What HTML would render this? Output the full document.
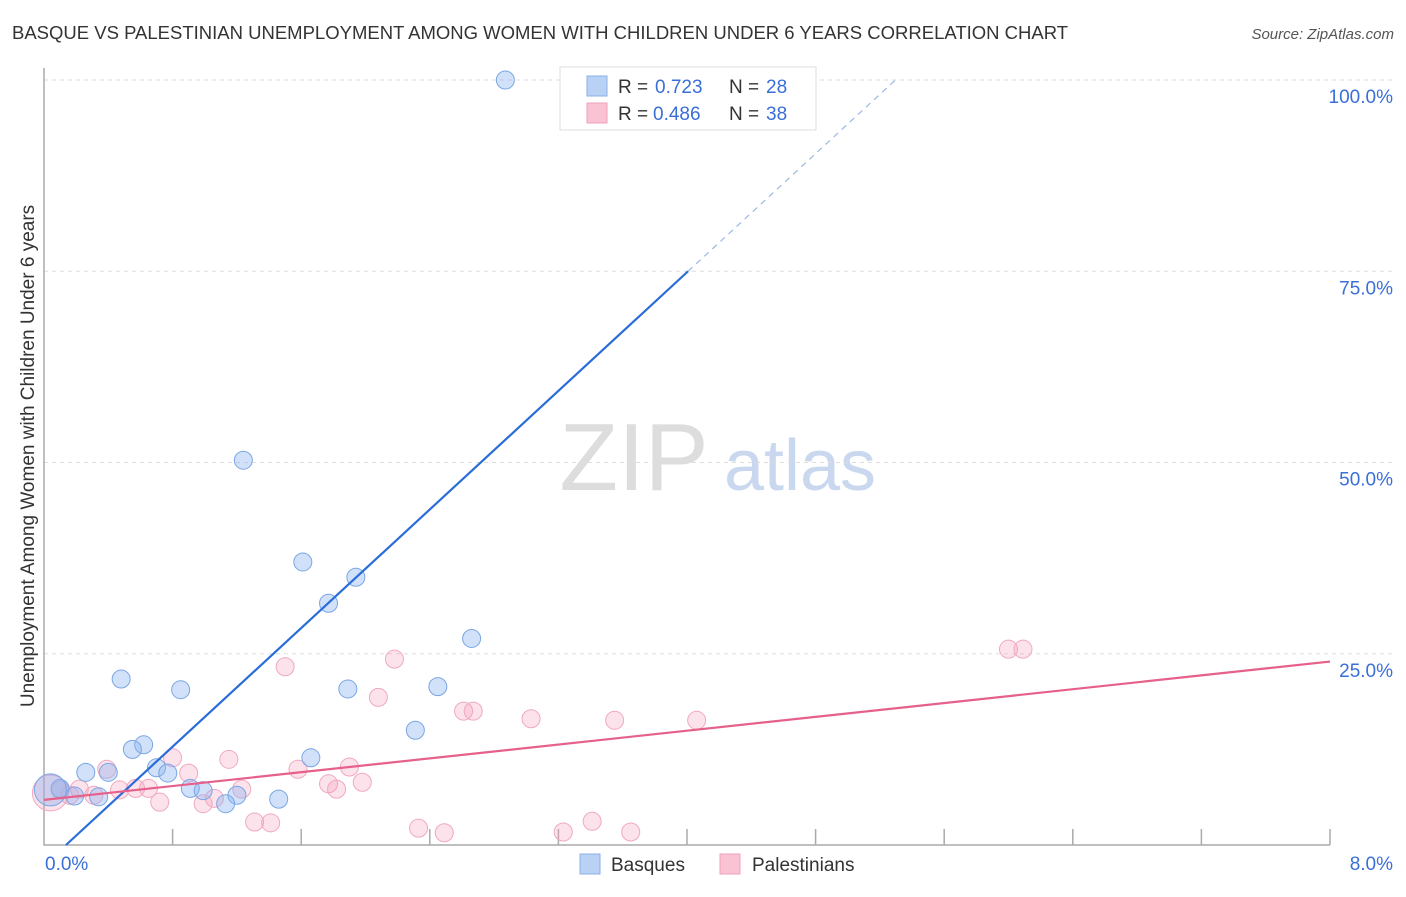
<!DOCTYPE html>
<html><head><meta charset="utf-8"><style>
body{margin:0;background:#fff;font-family:"Liberation Sans",sans-serif;}
svg text{font-family:"Liberation Sans",sans-serif;}
</style></head><body>
<svg id="chart" width="1406" height="892" viewBox="0 0 1406 892" xmlns="http://www.w3.org/2000/svg">
<text x="12" y="39" font-size="18.5" fill="#333">BASQUE VS PALESTINIAN UNEMPLOYMENT AMONG WOMEN WITH CHILDREN UNDER 6 YEARS CORRELATION CHART</text>
<text x="1394" y="39" font-size="15" fill="#555" text-anchor="end" font-style="italic">Source: ZipAtlas.com</text>
<text transform="translate(34,456) rotate(-90)" font-size="19" fill="#333" text-anchor="middle">Unemployment Among Women with Children Under 6 years</text>
<g>
<text x="634" y="490" font-size="96" fill="#ddd" text-anchor="middle" font-family="Liberation Serif, serif">ZIP</text>
<text x="800" y="490" font-size="72" fill="#c9d8ee" text-anchor="middle">atlas</text>
</g>
<g id="grid"></g><g id="axes"></g><g id="marks"></g>
<g>
<rect x="560" y="67" width="256" height="63" fill="#fff" stroke="#ddd"/>
<rect x="587" y="76" width="20" height="20" fill="#b8d1f5" stroke="#8ab0e8"/>
<rect x="587" y="103" width="20" height="20" fill="#f9c3d4" stroke="#eea0b9"/>
<text x="618" y="93" font-size="19" fill="#333">R =</text><text x="655" y="93" font-size="19" fill="#3a6fd8">0.723</text>
<text x="729" y="93" font-size="19" fill="#333">N =</text><text x="766" y="93" font-size="19" fill="#3a6fd8">28</text>
<text x="618" y="120" font-size="19" fill="#333">R =</text><text x="653" y="120" font-size="19" fill="#3a6fd8">0.486</text>
<text x="729" y="120" font-size="19" fill="#333">N =</text><text x="766" y="120" font-size="19" fill="#3a6fd8">38</text>
</g>
<g>
<rect x="580" y="854" width="20" height="20" fill="#b8d1f5" stroke="#8ab0e8"/>
<text x="611" y="871" font-size="19" fill="#333">Basques</text>
<rect x="720" y="854" width="20" height="20" fill="#f9c3d4" stroke="#eea0b9"/>
<text x="752" y="871" font-size="19" fill="#333">Palestinians</text>
</g>
</svg>
<script>
const basqueX=[2.87,3.66,1.24,1.61,1.94,1.77,2.66,0.48,0.85,1.89,2.45,2.31,0.62,0.55,1.66,0.70,0.77,0.26,0.40,0.10,0.91,0.99,1.20,1.46,1.13,0.19,0.34,0.04];
const basqueY=[100,100,50.3,37.0,35.0,31.6,27.0,21.7,20.3,20.4,20.7,15.0,13.1,12.5,11.4,10.1,9.4,9.5,9.5,7.4,7.4,7.1,6.5,6.0,5.4,6.4,6.3,7.2];
const palX=[6.00,6.09,2.18,1.50,2.08,2.61,2.67,3.03,3.55,4.06,0.80,1.15,1.90,1.58,0.39,0.90,1.98,1.77,1.82,0.65,0.57,0.47,1.23,0.22,0.31,1.06,0.72,0.99,1.31,1.41,2.33,2.49,3.23,3.41,3.65,0.04,0.10,0.16];
const palY=[25.6,25.6,24.3,23.3,19.3,17.5,17.5,16.5,16.3,16.3,11.4,11.2,10.2,9.9,9.9,9.4,8.2,8.0,7.3,7.4,7.4,7.2,7.3,7.3,6.5,6.1,5.6,5.4,3.0,2.9,2.2,1.6,1.7,3.1,1.7,6.8,7.2,6.5];
const yTicks=[25,50,75,100];
const yTickLabels=["25.0%","50.0%","75.0%","100.0%"];
const xTicks=[0.8,1.6,2.4,3.2,4.0,4.8,5.6,6.4,7.2,8.0];
const basqueTrend=[-2.65,19.38]; // intercept, slope
const palTrend=[5.9,2.26];
const NS="http://www.w3.org/2000/svg";
const X0=44,X1=1330,Y0=845,Y100=80;
const sx=v=>X0+(X1-X0)*v/8;
const sy=v=>Y0-(Y0-Y100)*v/100;
function mk(tag,attrs,parent){const e=document.createElementNS(NS,tag);for(const k in attrs)e.setAttribute(k,attrs[k]);document.getElementById(parent).appendChild(e);return e;}
yTicks.forEach((t,i)=>{
 const g=mk('line',{x1:X0,x2:1394,y1:sy(t),y2:sy(t),stroke:'#ddd','stroke-dasharray':'4,4'},'grid');
 
 
 const l=mk('text',{x:1393,y:sy(t)+23,'font-size':19,fill:'#3a6fd8','text-anchor':'end'},'axes');
 l.textContent=yTickLabels[i];
 
 
});
const ax=mk('path',{d:`M${X0},68V${Y0}H${X1}`,stroke:'#aaa',fill:'none','stroke-width':1.5},'axes');


xTicks.forEach(t=>{
 const e=mk('line',{x1:sx(t),x2:sx(t),y1:Y0,y2:Y0-16,stroke:'#aaa','stroke-width':1.5},'axes');
 
 
});
const xl0=mk('text',{x:45,y:870,'font-size':19,fill:'#3a6fd8'},'axes');xl0.textContent='0.0%';


const xl1=mk('text',{x:1393,y:870,'font-size':19,fill:'#3a6fd8','text-anchor':'end'},'axes');xl1.textContent='8.0%';


function pts(xs,ys,fill,stroke,name){
 xs.forEach((x,i)=>{
  const r=i===xs.length-1&&name==='basque-point'?16:(name==='pal-point'&&i===xs.length-3?18:9);
  const c=mk('circle',{cx:sx(x),cy:sy(ys[i]),r:r,fill:fill,stroke:stroke,'stroke-width':1},'marks');
  
  
 });
}
pts(palX,palY,'rgba(245,160,190,0.3)','#f0a8c0','pal-point');
pts(basqueX,basqueY,'rgba(140,180,240,0.4)','#7aa6e4','basque-point');
const bx0=-basqueTrend[0]/basqueTrend[1],bx1=(75-basqueTrend[0])/basqueTrend[1],bx2=(100-basqueTrend[0])/basqueTrend[1];
const bl=mk('line',{x1:sx(bx0),y1:sy(0),x2:sx(bx1),y2:sy(75),stroke:'#2a6dd8','stroke-width':2.2},'marks');


const bd=mk('line',{x1:sx(bx1),y1:sy(75),x2:sx(bx2),y2:sy(100),stroke:'#9ab8e6','stroke-width':1.2,'stroke-dasharray':'6,5'},'marks');


const pl=mk('line',{x1:sx(0),y1:sy(palTrend[0]),x2:sx(8),y2:sy(palTrend[0]+palTrend[1]*8),stroke:'#e6608a','stroke-width':2.2},'marks');


</script>
</body></html>
